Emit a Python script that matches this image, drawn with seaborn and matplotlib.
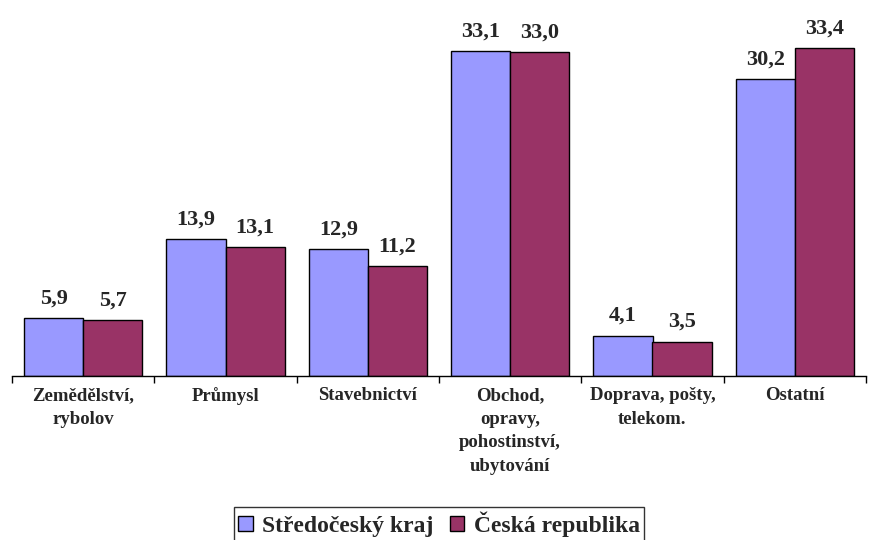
import pandas as pd
import matplotlib.pyplot as plt
import seaborn as sns

# data
categories = ["Zemědělství,\nrybolov", "Průmysl", "Stavebnictví",
              "Obchod,\nopravy,\npohostinství,\nubytování",
              "Doprava, pošty,\ntelekom.", "Ostatní"]
stredocesky = [5.9, 13.9, 12.9, 33.1, 4.1, 30.2]
cr = [5.7, 13.1, 11.2, 33.0, 3.5, 33.4]
series_names = ["Středočeský kraj", "Česká republika"]

df = pd.DataFrame({
    "kategorie": categories * 2,
    "hodnota": stredocesky + cr,
    "oblast": [series_names[0]] * len(categories) + [series_names[1]] * len(categories),
})

sns.set_style("white")
plt.rcParams['font.family'] = ['Liberation Serif', 'DejaVu Serif']

fig = plt.figure(figsize=(8.72, 5.4), dpi=100)
ax = fig.add_axes([12 / 872, 164 / 540, 854 / 872, 366 / 540])

sns.barplot(data=df, x="kategorie", y="hodnota", hue="oblast",
            palette=["#9999FF", "#993366"], saturation=1, width=0.83,
            edgecolor="black", linewidth=1, ax=ax)

for cont in ax.containers:
    ax.bar_label(cont, labels=[f"{v:.1f}".replace(".", ",") for v in cont.datavalues],
                 padding=7, fontsize=16, fontweight="bold")

ax.set_xlim(-0.5, len(categories) - 0.5)
ax.set_ylim(0, 37.27)
ax.set_xlabel("")
ax.set_ylabel("")
ax.set_yticks([])
for s in ["top", "right", "left"]:
    ax.spines[s].set_visible(False)
ax.spines["bottom"].set_color("black")
ax.spines["bottom"].set_linewidth(1)

ax.set_xticks(range(len(categories)))
ax.set_xticklabels(categories, fontsize=13.5, fontweight="bold", linespacing=1.5, va="top")
ax.tick_params(axis="x", which="major", length=0, pad=8)
ax.set_xticks([i - 0.5 for i in range(len(categories) + 1)], minor=True)
ax.tick_params(axis="x", which="minor", length=5, direction="out", color="black", width=1, bottom=True)

leg = ax.legend(loc="center", bbox_to_anchor=(0.5, -0.405), ncol=2, frameon=True,
                fancybox=False, edgecolor="black", handlelength=0.6, handleheight=0.6,
                handletextpad=0.4, columnspacing=0.7, borderpad=0.2, borderaxespad=0,
                prop={"weight": "bold", "size": 17})
leg.get_frame().set_linewidth(1)

fig.savefig("out.png", dpi=100)
